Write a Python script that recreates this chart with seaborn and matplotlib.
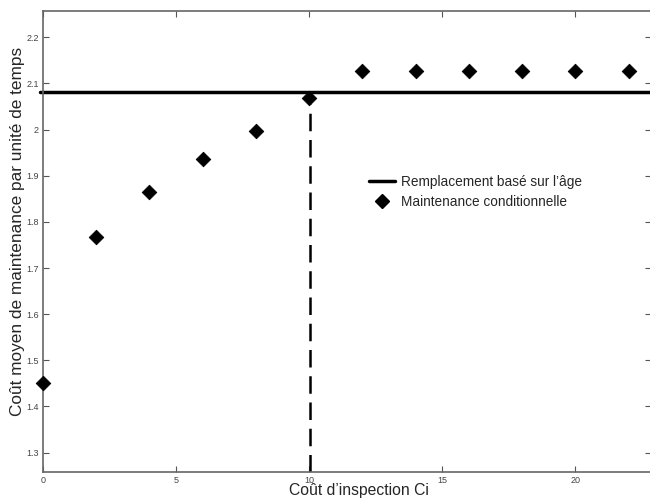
import matplotlib
matplotlib.use("Agg")
import matplotlib.pyplot as plt
import seaborn as sns
import pandas as pd
from matplotlib.lines import Line2D

inspection_cost = [0, 2, 4, 6, 8, 10, 12, 14, 16, 18, 20, 22]
cbm_cost = [1.45, 1.767, 1.865, 1.936, 1.997, 2.068, 2.128, 2.128, 2.128, 2.128, 2.128, 2.128]
age_replacement_cost = 2.081
threshold_x = 10.05
threshold_y = 2.068

x_ticks = [0, 5, 10, 15, 20]
y_ticks = [1.3, 1.4, 1.5, 1.6, 1.7, 1.8, 1.9, 2.0, 2.1, 2.2]
y_tick_labels = ["1.3", "1.4", "1.5", "1.6", "1.7", "1.8", "1.9", "2", "2.1", "2.2"]

sns.set_theme(style="white")
plt.rcParams["font.family"] = ["Liberation Sans", "DejaVu Sans"]

df = pd.DataFrame({"Ci": inspection_cost, "cout": cbm_cost})

fig = plt.figure(figsize=(6.5, 4.99), dpi=100)
ax = fig.add_axes([0.066, 0.055, 0.936, 0.922])

ax.axhline(age_replacement_cost, color="black", lw=2.5, zorder=2, clip_on=False,
           xmin=-0.005)
ax.vlines(threshold_x, 1.259, threshold_y - 0.012, colors="black", lw=1.8,
          linestyles=(0, (7, 3.5)), zorder=2)
sns.scatterplot(data=df, x="Ci", y="cout", marker="D", s=55, color="black",
                edgecolor="black", ax=ax, zorder=3, clip_on=False)

ax.set_xlim(0, 22.85)
ax.set_ylim(1.259, 2.256)
ax.set_xticks(x_ticks)
ax.set_xticklabels([str(t) for t in x_ticks])
ax.set_yticks(y_ticks)
ax.set_yticklabels(y_tick_labels)
ax.tick_params(direction="in", length=4, width=0.8, color="#555555",
               labelsize=6.5, labelcolor="#444444", top=True, right=True,
               bottom=True, left=True, pad=3)
for s in ax.spines.values():
    s.set_color("#666666")
    s.set_linewidth(1.2)

ax.set_xlabel("Coût d’inspection Ci", fontsize=11.3, va="bottom")
ax.xaxis.set_label_coords(0.52, -0.058)
ax.set_ylabel("Coût moyen de maintenance par unité de temps", fontsize=12.4)
ax.yaxis.set_label_coords(-0.0296, 0.522)

handles = [Line2D([0], [0], color="black", lw=2.5),
           Line2D([0], [0], color="black", marker="D", lw=0, markersize=7)]
ax.legend(handles, ["Remplacement basé sur l’âge", "Maintenance conditionnelle"],
          loc="upper left", bbox_to_anchor=(0.52, 0.665), frameon=False,
          fontsize=9.8, handlelength=1.9, handletextpad=0.45, labelspacing=0.4,
          borderpad=0.2)

fig.savefig("out.png", dpi=100)
